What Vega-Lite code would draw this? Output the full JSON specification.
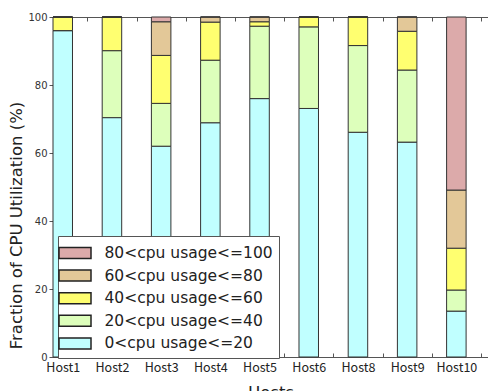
{
  "$schema": "https://vega.github.io/schema/vega-lite/v6.json",
  "autosize": {"type": "none"},
  "padding": {"left": 53, "top": 17, "right": 0, "bottom": 34},
  "width": 435,
  "height": 340,
  "background": "white",
  "config": {
    "view": {"stroke": "#555", "strokeWidth": 1},
    "axis": {"grid": false, "domainColor": "#555", "tickColor": "#555"}
  },
  "data": {
    "values": [
      {"host": "Host1", "range": "0<cpu usage<=20", "pct": 96.0},
      {"host": "Host1", "range": "20<cpu usage<=40", "pct": 0},
      {"host": "Host1", "range": "40<cpu usage<=60", "pct": 4.0},
      {"host": "Host1", "range": "60<cpu usage<=80", "pct": 0},
      {"host": "Host1", "range": "80<cpu usage<=100", "pct": 0},
      {"host": "Host2", "range": "0<cpu usage<=20", "pct": 70.4},
      {"host": "Host2", "range": "20<cpu usage<=40", "pct": 19.7},
      {"host": "Host2", "range": "40<cpu usage<=60", "pct": 9.9},
      {"host": "Host2", "range": "60<cpu usage<=80", "pct": 0},
      {"host": "Host2", "range": "80<cpu usage<=100", "pct": 0},
      {"host": "Host3", "range": "0<cpu usage<=20", "pct": 62.0},
      {"host": "Host3", "range": "20<cpu usage<=40", "pct": 12.6},
      {"host": "Host3", "range": "40<cpu usage<=60", "pct": 14.1},
      {"host": "Host3", "range": "60<cpu usage<=80", "pct": 9.9},
      {"host": "Host3", "range": "80<cpu usage<=100", "pct": 1.4},
      {"host": "Host4", "range": "0<cpu usage<=20", "pct": 68.9},
      {"host": "Host4", "range": "20<cpu usage<=40", "pct": 18.4},
      {"host": "Host4", "range": "40<cpu usage<=60", "pct": 11.2},
      {"host": "Host4", "range": "60<cpu usage<=80", "pct": 1.5},
      {"host": "Host4", "range": "80<cpu usage<=100", "pct": 0},
      {"host": "Host5", "range": "0<cpu usage<=20", "pct": 76.0},
      {"host": "Host5", "range": "20<cpu usage<=40", "pct": 21.3},
      {"host": "Host5", "range": "40<cpu usage<=60", "pct": 1.3},
      {"host": "Host5", "range": "60<cpu usage<=80", "pct": 1.4},
      {"host": "Host5", "range": "80<cpu usage<=100", "pct": 0},
      {"host": "Host6", "range": "0<cpu usage<=20", "pct": 73.1},
      {"host": "Host6", "range": "20<cpu usage<=40", "pct": 24.0},
      {"host": "Host6", "range": "40<cpu usage<=60", "pct": 2.9},
      {"host": "Host6", "range": "60<cpu usage<=80", "pct": 0},
      {"host": "Host6", "range": "80<cpu usage<=100", "pct": 0},
      {"host": "Host8", "range": "0<cpu usage<=20", "pct": 66.1},
      {"host": "Host8", "range": "20<cpu usage<=40", "pct": 25.5},
      {"host": "Host8", "range": "40<cpu usage<=60", "pct": 8.4},
      {"host": "Host8", "range": "60<cpu usage<=80", "pct": 0},
      {"host": "Host8", "range": "80<cpu usage<=100", "pct": 0},
      {"host": "Host9", "range": "0<cpu usage<=20", "pct": 63.2},
      {"host": "Host9", "range": "20<cpu usage<=40", "pct": 21.2},
      {"host": "Host9", "range": "40<cpu usage<=60", "pct": 11.4},
      {"host": "Host9", "range": "60<cpu usage<=80", "pct": 4.2},
      {"host": "Host9", "range": "80<cpu usage<=100", "pct": 0},
      {"host": "Host10", "range": "0<cpu usage<=20", "pct": 13.5},
      {"host": "Host10", "range": "20<cpu usage<=40", "pct": 6.2},
      {"host": "Host10", "range": "40<cpu usage<=60", "pct": 12.3},
      {"host": "Host10", "range": "60<cpu usage<=80", "pct": 17.1},
      {"host": "Host10", "range": "80<cpu usage<=100", "pct": 50.9}
    ]
  },
  "layer": [
    {
      "mark": {"type": "bar", "stroke": "#333", "strokeWidth": 1},
      "encoding": {
        "x": {
          "field": "host", "type": "nominal", "sort": null,
          "scale": {"paddingInner": 0.6037, "paddingOuter": 0.2226, "align": 0},
          "axis": {
            "title": "Hosts", "orient": "bottom",
            "labelAngle": 0, "labelFont": "Noto Sans CJK JP", "labelFontSize": 12.5, "labelColor": "#222",
            "tickSize": -4, "tickOffset": 24.6, "labelOffset": -24.6, "labelPadding": 8,
            "titleFont": "DejaVu Sans", "titleFontSize": 16.5, "titleFontWeight": "normal", "titleColor": "#222",
            "titleBaseline": "alphabetic", "titleY": 40
          }
        },
        "y": {
          "field": "pct", "type": "quantitative", "aggregate": "sum",
          "scale": {"domain": [0, 100], "nice": false},
          "axis": {
            "title": "Fraction of CPU Utilization (%)",
            "values": [0, 20, 40, 60, 80, 100],
            "tickSize": 4, "labelFont": "DejaVu Sans", "labelFontSize": 10, "labelColor": "#333", "labelPadding": 2,
            "titleFont": "DejaVu Sans", "titleFontSize": 16.5, "titleFontWeight": "normal", "titleColor": "#222",
            "titleX": -29, "titleY": 208
          }
        },
        "order": {"field": "range", "type": "nominal", "sort": "ascending"},
        "color": {
          "field": "range", "type": "nominal",
          "scale": {
            "domain": ["0<cpu usage<=20", "20<cpu usage<=40", "40<cpu usage<=60", "60<cpu usage<=80", "80<cpu usage<=100"],
            "range": ["#c0ffff", "#ddffbb", "#ffff70", "#e3c898", "#dcaaaa"]
          },
          "legend": {
            "orient": "none", "legendX": 5, "legendY": 219, "title": null,
            "values": ["80<cpu usage<=100", "60<cpu usage<=80", "40<cpu usage<=60", "20<cpu usage<=40", "0<cpu usage<=20"],
            "symbolType": "M-1.6,-0.55H1.6V0.55H-1.6Z", "symbolSize": 400,
            "symbolStrokeColor": "#222", "symbolStrokeWidth": 1.5, "symbolOpacity": 1,
            "labelFont": "DejaVu Sans", "labelFontSize": 15.5, "labelColor": "#222", "labelOffset": 18.5, "labelLimit": 400,
            "strokeColor": "#555", "fillColor": "white", "padding": 6, "rowPadding": 2.6
          }
        }
      }
    },
    {
      "mark": {"type": "point", "opacity": 0},
      "encoding": {
        "x": {
          "field": "host", "type": "nominal", "sort": null,
          "axis": {"orient": "top", "title": null, "labels": false, "domain": false, "tickSize": -4, "tickOffset": 24.6}
        }
      }
    }
  ],
  "resolve": {"axis": {"x": "independent"}}
}
